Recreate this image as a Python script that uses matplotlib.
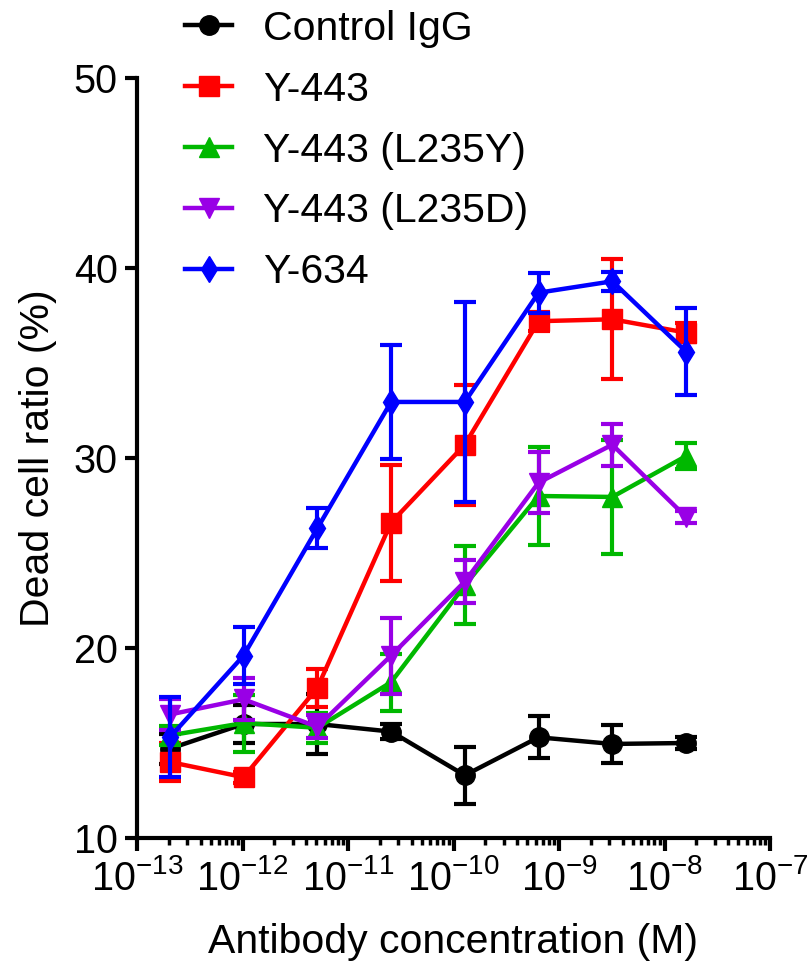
import numpy as np
import matplotlib
matplotlib.use("Agg")
import matplotlib.pyplot as plt
from matplotlib.ticker import FixedLocator, NullFormatter

plt.rcParams['font.family'] = ['Liberation Sans', 'DejaVu Sans']
plt.rcParams['mathtext.fontset'] = 'custom'
plt.rcParams['mathtext.rm'] = 'Liberation Sans'
plt.rcParams['mathtext.it'] = 'Liberation Sans'
plt.rcParams['mathtext.default'] = 'regular'

## data (5-fold dilutions)
conc = [2.048e-13, 1.024e-12, 5.12e-12, 2.56e-11, 1.28e-10, 6.4e-10, 3.2e-9, 1.6e-8]

labels = ["Control IgG", "Y-443", "Y-443 (L235Y)", "Y-443 (L235D)", "Y-634"]

ctrl = [14.7, 16.0, 16.0, 15.6, 13.3, 15.3, 14.95, 15.0]
ctrl_err = [0.8, 1.0, 1.6, 0.4, 1.5, 1.1, 1.0, 0.3]

y443 = [14.0, 13.2, 17.9, 26.6, 30.7, 37.2, 37.3, 36.6]
y443_err = [1.0, 0.3, 1.0, 3.05, 3.15, 0.5, 3.15, 0.5]

l235y = [15.4, 16.05, 15.8, 18.2, 23.3, 28.0, 27.95, 30.1]
l235y_err = [0.5, 1.5, 0.8, 1.5, 2.05, 2.6, 3.0, 0.7]

l235d = [16.5, 17.3, 15.85, 19.6, 23.5, 28.7, 30.7, 26.9]
l235d_err = [0.8, 1.1, 0.6, 2.0, 1.15, 1.6, 1.1, 0.3]

y634 = [15.3, 19.6, 26.3, 32.95, 32.95, 38.7, 39.3, 35.6]
y634_err = [2.1, 1.5, 1.05, 3.0, 5.25, 1.05, 0.5, 2.3]

decades = [-13, -12, -11, -10, -9, -8, -7]
xticks = [10.0**d for d in decades]
xticklabels = ['$10^{%d}$' % d for d in decades]

series = [ctrl, y443, l235y, l235d, y634]
errs = [ctrl_err, y443_err, l235y_err, l235d_err, y634_err]
colors = ['#000000', '#ff0000', '#00b800', '#9900e6', '#0000ff']
markers = ['o', 's', '^', 'v', 'd']
msizes = [14, 14, 15, 15, 13]

## figure
fig = plt.figure(figsize=(8.08, 9.64), dpi=100)
ax = fig.add_axes([137/808, 1-838/964, (770-137)/808, (838-78)/964])

handles = []
for y, e, c, m, s, lab in zip(series, errs, colors, markers, msizes, labels):
    ax.errorbar(conc, y, yerr=e, fmt='none', ecolor=c, elinewidth=3, capsize=8, capthick=3)
    h, = ax.plot(conc, y, color=c, marker=m, markersize=s, linewidth=3.2, label=lab)
    handles.append(h)

ax.set_xscale('log')
ax.set_xlim(1e-13, 1e-7)
ax.set_ylim(10, 50)
ax.set_yticks([10, 20, 30, 40, 50])
ax.set_xticks(xticks)
ax.set_xticklabels(xticklabels)
minor = [k * 10.0**d for d in decades[:-1] for k in range(2, 10)]
ax.xaxis.set_minor_locator(FixedLocator(minor))
ax.xaxis.set_minor_formatter(NullFormatter())

for side in ['top', 'right']:
    ax.spines[side].set_visible(False)
for side in ['left', 'bottom']:
    ax.spines[side].set_linewidth(3)

ax.tick_params(axis='both', which='major', direction='out', length=9, width=3, labelsize=28.5)
ax.tick_params(axis='y', which='major', pad=5)
ax.tick_params(axis='x', which='major', pad=6)
ax.tick_params(axis='x', which='minor', direction='out', length=5, width=2.5)

ax.set_xlabel('Antibody concentration (M)', fontsize=29.5, labelpad=18)
ax.set_ylabel('Dead cell ratio (%)', fontsize=29.5, labelpad=12)

fig.legend(handles=handles, loc='upper left', bbox_to_anchor=(185/808, 0.99), frameon=False,
           fontsize=29.5, handlelength=1.15, handletextpad=0.75, labelspacing=0.56,
           borderpad=0, borderaxespad=0)

fig.savefig('out.png', dpi=100)
